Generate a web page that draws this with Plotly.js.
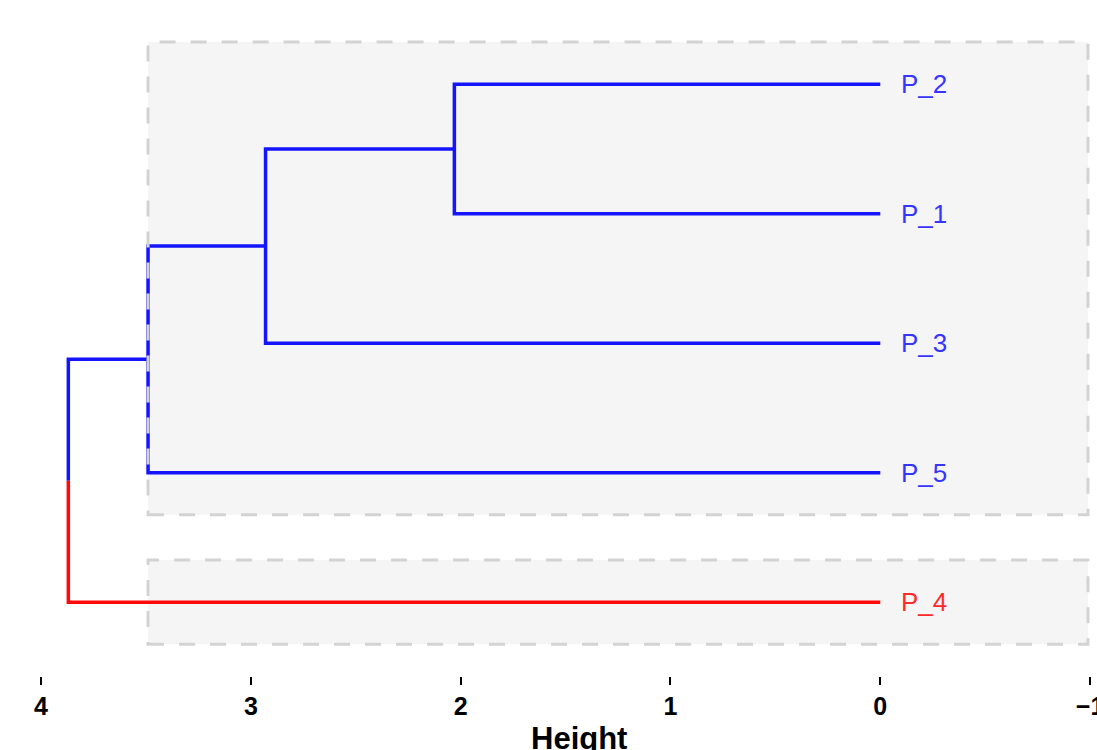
<!DOCTYPE html>
<html>
<head>
<meta charset="utf-8">
<script src="https://cdn.plot.ly/plotly-3.0.1.min.js"></script>
<style>html,body{margin:0;padding:0;background:#fff;}#chart{width:1097px;height:750px;}</style>
</head>
<body>
<div id="chart"></div>
<script>
// Leaves, bottom to top
const leaves = ["P_4", "P_5", "P_3", "P_1", "P_2"];
const leafColors = ["#ff0000", "#0000ff", "#0000ff", "#0000ff", "#0000ff"];
// Merges (agglomeration order)
const mergeA = ["P_1", "m1", "m2", "m3"];
const mergeB = ["P_2", "P_3", "P_5", "P_4"];
const mergeNames = ["m1", "m2", "m3", "m4"];
const mergeHeight = [2.03, 2.93, 3.49, 3.87];
// Cluster boxes (members of each cluster)
const clusterMembers = [["P_5", "P_3", "P_1", "P_2"], ["P_4"]];
const clusterHeight = [3.49, 3.49];
const tickVals = [4, 3, 2, 1, 0, -1];

// node positions
const node = {};
leaves.forEach((l, i) => { node[l] = {y: i + 1, h: 0, color: leafColors[i]}; });
mergeNames.forEach((m, i) => {
  const a = node[mergeA[i]], b = node[mergeB[i]];
  const col = (a.color === b.color) ? a.color : null;
  node[m] = {y: (a.y + b.y) / 2, h: mergeHeight[i], color: col};
});

// segments per color
const segs = {};
function add(col, xs, ys) {
  if (!segs[col]) segs[col] = {x: [], y: []};
  segs[col].x.push(...xs, null); segs[col].y.push(...ys, null);
}
mergeNames.forEach((m, i) => {
  const p = node[m];
  [mergeA[i], mergeB[i]].forEach(c => {
    const ch = node[c];
    add(ch.color, [ch.h, p.h, p.h], [ch.y, ch.y, p.y]);
  });
});

const lineColor = {"#0000ff": "#1414ff", "#ff0000": "#ff0a0a"};
const traces = Object.keys(segs).map(col => ({
  type: "scatter", mode: "lines", x: segs[col].x, y: segs[col].y,
  line: {color: lineColor[col] || col, width: 3.5}, hoverinfo: "skip", showlegend: false
}));

const shapes = [];
clusterMembers.forEach((mem, k) => {
  const ys = mem.map(n => node[n].y);
  const y0 = Math.min(...ys) - 0.325, y1 = Math.max(...ys) + 0.325;
  const x0 = clusterHeight[k], x1 = -0.99;
  shapes.push({type: "rect", layer: "below", xref: "x", yref: "y", x0: x0, x1: x1, y0: y0, y1: y1,
    fillcolor: "#f5f5f5", line: {width: 0}});
  shapes.push({type: "rect", layer: "above", xref: "x", yref: "y", x0: x0, x1: x1, y0: y0, y1: y1,
    fillcolor: "rgba(0,0,0,0)", line: {color: "#d3d3d3", width: 3, dash: "16px,15px"}});
});

const annotations = leaves.map((l, i) => ({
  x: 0, y: i + 1, xref: "x", yref: "y", text: l, showarrow: false,
  xanchor: "left", yanchor: "middle", xshift: 19,
  font: {family: "Liberation Sans, Arial, sans-serif", size: 26, color: leafColors[i] === "#0000ff" ? "#3535ff" : "#ff2a2a"}
}));
annotations.push({
  x: 0.5235, y: -0.064, xref: "paper", yref: "paper", text: "<b>Height</b>", showarrow: false,
  xanchor: "center", yanchor: "top",
  font: {family: "Liberation Sans, Arial, sans-serif", size: 31, color: "#000"}
});

const layout = {
  width: 1097, height: 750,
  margin: {l: 10, r: 0, t: 0, b: 74, pad: 0},
  paper_bgcolor: "#fff", plot_bgcolor: "#fff",
  xaxis: {range: [4.148, -1.033], tickvals: tickVals, ticks: "outside", ticklen: 8, tickwidth: 2,
    tickcolor: "#000", showgrid: false, zeroline: false, showline: false, ticklabeloverflow: "allow",
    tickfont: {family: "Liberation Sans, Arial, sans-serif", size: 25, color: "#000", weight: "bold"}},
  yaxis: {range: [0.43, 5.65], visible: false, showgrid: false, zeroline: false},
  shapes: shapes, annotations: annotations, showlegend: false
};
Plotly.newPlot("chart", traces, layout, {staticPlot: true, displayModeBar: false});
</script>
</body>
</html>
